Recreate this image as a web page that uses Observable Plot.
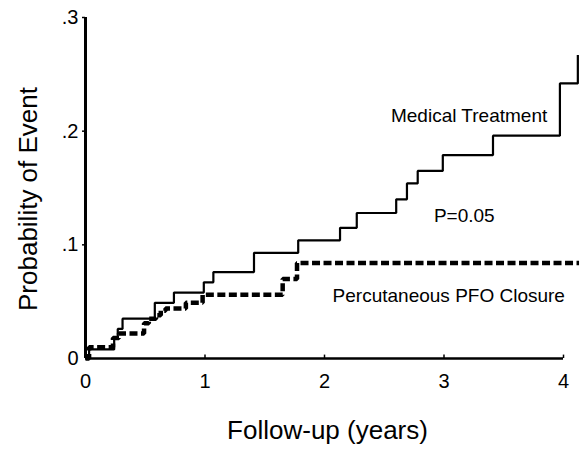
<!DOCTYPE html>
<html>
<head>
<meta charset="utf-8">
<script src="https://cdn.jsdelivr.net/npm/d3@7"></script>
<script src="https://cdn.jsdelivr.net/npm/@observablehq/plot@0.6"></script>
<style>
  html, body { margin: 0; padding: 0; background: #fff; }
  #chart { width: 587px; height: 455px; }
</style>
</head>
<body>
<div id="chart"></div>
<script>
// Medical treatment (solid) — cumulative probability of event by follow-up year
const medTime = [0, 0.03, 0.24, 0.27, 0.31, 0.58, 0.74, 0.99, 1.07, 1.41, 1.78, 2.13, 2.27, 2.60, 2.69, 2.78, 2.99, 3.41, 3.97, 4.12];
const medProb = [0, 0.008, 0.018, 0.026, 0.035, 0.049, 0.058, 0.067, 0.076, 0.093, 0.104, 0.115, 0.128, 0.140, 0.154, 0.165, 0.179, 0.196, 0.242, 0.267];

// Percutaneous PFO closure (dashed)
const pfoTime = [0, 0.03, 0.23, 0.28, 0.49, 0.53, 0.59, 0.63, 0.67, 0.84, 0.98, 1.65, 1.77, 4.13];
const pfoProb = [0, 0.010, 0.018, 0.022, 0.031, 0.035, 0.038, 0.042, 0.044, 0.049, 0.056, 0.070, 0.084, 0.084];

// Axis ticks
const xTicks = [0, 1, 2, 3, 4];
const yTicks = [0, 0.1, 0.2, 0.3];
const yTickLabels = ["0", ".1", ".2", ".3"];

// Annotations
const annText = ["Medical Treatment", "P=0.05", "Percutaneous PFO Closure"];
const annX = [3.21, 3.17, 3.04];
const annY = [0.2135, 0.1258, 0.0555];

const xTitle = "Follow-up (years)";
const yTitle = "Probability of Event";

const med = medTime.map((t, i) => ({t, p: medProb[i]}));
const pfo = pfoTime.map((t, i) => ({t, p: pfoProb[i]}));
const ann = annText.map((s, i) => ({s, x: annX[i], y: annY[i]}));

const chart = Plot.plot({
  width: 587,
  height: 455,
  marginLeft: 85,
  marginRight: 24,
  marginTop: 17,
  marginBottom: 97,
  style: {fontFamily: "'Liberation Sans', Arial, sans-serif", fontSize: "20px", color: "#000", background: "#fff"},
  x: {domain: [0, 4], ticks: xTicks, tickSize: 0, tickPadding: 15, tickFormat: d => String(d), label: null},
  y: {domain: [0, 0.3], ticks: yTicks, tickSize: 0, tickPadding: 7,
      tickFormat: d => yTickLabels[yTicks.findIndex(v => Math.abs(v - d) < 1e-9)], label: null},
  marks: [
    Plot.ruleY([0], {x1: 0, x2: 4, stroke: "#000", strokeWidth: 2.5}),
    Plot.ruleX([0], {y1: 0, y2: 0.3, stroke: "#000", strokeWidth: 3}),
    Plot.ruleX(xTicks.slice(1), {y1: 0, y2: 0.003, stroke: "#000", strokeWidth: 1.5}),
    Plot.ruleY(yTicks.slice(1), {x1: -0.025, x2: 0, stroke: "#000", strokeWidth: 1.5}),
    Plot.line(pfo, {x: "t", y: "p", curve: "step-after", stroke: "#000", strokeWidth: 4.5, strokeDasharray: "8,3.5", strokeLinecap: "butt", strokeLinejoin: "miter"}),
    Plot.line(med, {x: "t", y: "p", curve: "step-after", stroke: "#000", strokeWidth: 2.2, strokeLinecap: "butt", strokeLinejoin: "miter"}),
    Plot.text(ann, {x: "x", y: "y", text: "s", fontSize: 19, fill: "#000"}),
    Plot.text([xTitle], {frameAnchor: "bottom", textAnchor: "middle", dy: 80, dx: 3, fontSize: 26, fill: "#000"}),
    Plot.text([yTitle], {frameAnchor: "left", textAnchor: "middle", lineAnchor: "middle", dx: -57, dy: 11, rotate: -90, fontSize: 26, fill: "#000"})
  ]
});
document.getElementById("chart").appendChild(chart);
</script>
</body>
</html>
